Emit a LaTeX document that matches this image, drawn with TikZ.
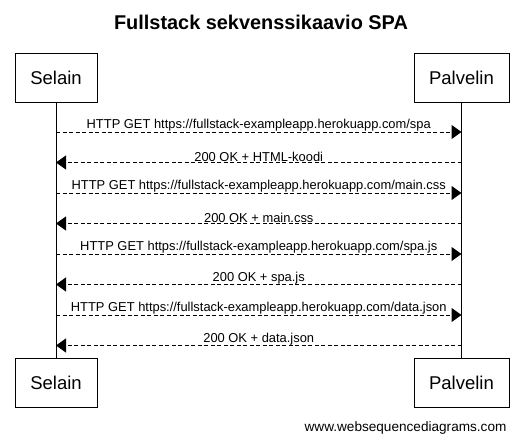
\documentclass[tikz,border=0pt]{standalone}
\usepackage{fontspec}
\setmainfont{Liberation Sans}
\usetikzlibrary{arrows.meta,positioning}

\begin{document}
\begin{tikzpicture}[
    x=1pt, y=-1pt,
    actor/.style={
        rectangle,
        draw=black,
        line width=1pt,
        minimum height=49pt,
        inner sep=0pt,
        font=\fontsize{18.5}{22}\selectfont
    },
    msg/.style={
        above,
        inner sep=0pt,
        font=\fontsize{12.9}{15}\selectfont
    },
    lifeline/.style={draw=black, line width=1pt},
    msg line/.style={draw=black, line width=1pt, dash pattern=on 4pt off 2.5pt,
        -{Triangle[length=10pt,width=14pt]}}
]
\useasboundingbox (0,0) rectangle (531,442);

% Title
\node [font=\fontsize{19.9}{24}\selectfont\bfseries, anchor=base] (title) at (261,29) {Fullstack sekvenssikaavio SPA};

% Participants
\node [actor, minimum width=82pt] (selain_top) at (56,77.5) {Selain};
\node [actor, minimum width=95pt] (palvelin_top) at (461.5,77.5) {Palvelin};
\node [actor, minimum width=82pt] (selain_bottom) at (56,382.5) {Selain};
\node [actor, minimum width=95pt] (palvelin_bottom) at (461.5,382.5) {Palvelin};

% Lifelines
\draw [lifeline] (selain_top) -- (selain_bottom);
\draw [lifeline] (palvelin_top) -- (palvelin_bottom);

% Message points on the lifelines
\foreach \i/\y in {1/132,2/162.5,3/193,4/223.5,5/254,6/284.5,7/315,8/345.5} {
    \coordinate (s\i) at (selain_top.south |- 0,\y);
    \coordinate (p\i) at (palvelin_top.south |- 0,\y);
}

% Messages
\draw [msg line] (s1) -- node[msg] {HTTP GET https://fullstack-exampleapp.herokuapp.com/spa} (p1);
\draw [msg line] (p2) -- node[msg] {200 OK + HTML-koodi} (s2);
\draw [msg line] (s3) -- node[msg] {HTTP GET https://fullstack-exampleapp.herokuapp.com/main.css} (p3);
\draw [msg line] (p4) -- node[msg] {200 OK + main.css} (s4);
\draw [msg line] (s5) -- node[msg] {HTTP GET https://fullstack-exampleapp.herokuapp.com/spa.js} (p5);
\draw [msg line] (p6) -- node[msg] {200 OK + spa.js} (s6);
\draw [msg line] (s7) -- node[msg] {HTTP GET https://fullstack-exampleapp.herokuapp.com/data.json} (p7);
\draw [msg line] (p8) -- node[msg] {200 OK + data.json} (s8);

% Footer
\node [font=\fontsize{13.6}{16}\selectfont, anchor=base east] (footer) at (510,431) {www.websequencediagrams.com};

\end{tikzpicture}
\end{document}
